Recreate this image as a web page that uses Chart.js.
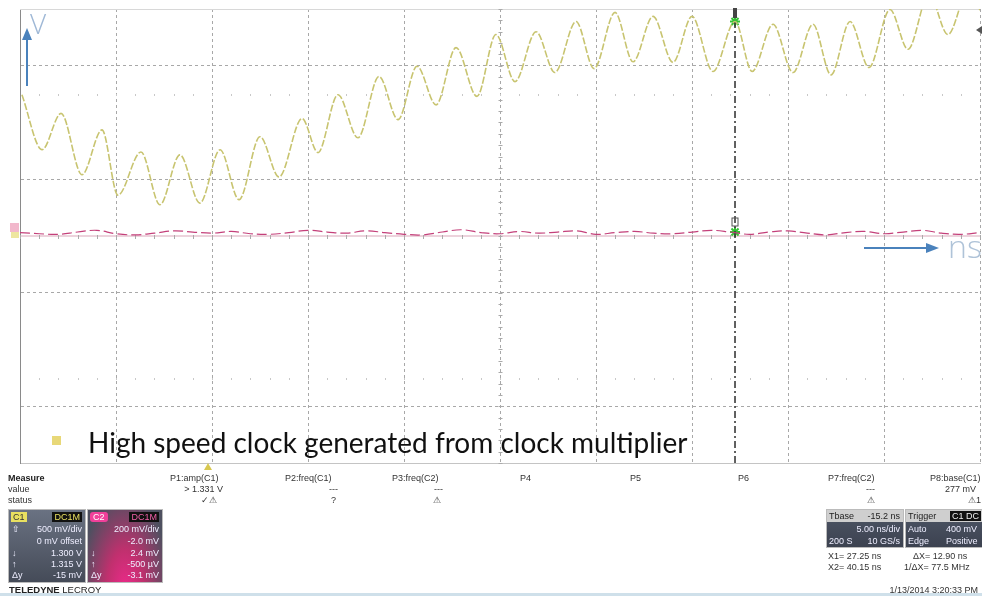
<!DOCTYPE html>
<html>
<head>
<meta charset="utf-8">
<script src="https://cdn.jsdelivr.net/npm/chart.js@4.4.0/dist/chart.umd.min.js"></script>
<style>
  body { margin: 0; width: 982px; height: 596px; position: relative; overflow: hidden; background: #fff; font-family: "Liberation Sans", Arial, sans-serif; }
  canvas { position: absolute; left: 0; top: 0; }
  .t { position: absolute; font-size: 9px; color: #333; white-space: nowrap; line-height: 10px; }
  .r { text-align: right; }
  .box { position: absolute; border: 1px solid #bbb; box-sizing: border-box; }
  .w { color: #eef; }
</style>
</head>
<body>
<canvas id="scope" width="987" height="596"></canvas>

<svg width="982" height="596" style="position:absolute;left:0;top:0">
  <!-- axis hint arrows -->
  <line x1="27" y1="86" x2="27" y2="38" stroke="#4a82bc" stroke-width="2"/>
  <polygon points="22,40 32,40 27,28" fill="#4a82bc"/>
  <line x1="864" y1="248" x2="928" y2="248" stroke="#4a82bc" stroke-width="2"/>
  <polygon points="926,243 926,253 939,248" fill="#4a82bc"/>
  <!-- channel markers on left -->
  <rect x="10" y="223" width="9" height="9" fill="#f2b8cc"/>
  <rect x="11" y="232" width="8" height="6" fill="#eee6a0"/>
  <!-- cursor flags -->
  <rect x="733" y="8" width="4" height="10" fill="#444"/>
  <rect x="732" y="218" width="6" height="8" fill="none" stroke="#555" stroke-width="1"/>
  <polygon points="982,26 976,30 982,34" fill="#555"/>
  <!-- trigger marker -->
  <polygon points="204,470 212,470 208,463" fill="#d8c850"/>
  <!-- bullet -->
  <rect x="52" y="436" width="9" height="9" fill="#e8d878"/>
  <!-- bottom line -->
  <rect x="0" y="593" width="982" height="3" fill="#cfe0ea"/>
</svg>

<div style="position:absolute;left:30px;top:4px;font-family:'Open Sans',sans-serif;font-weight:300;font-size:28px;color:#9fb8d6">V</div>
<div style="position:absolute;left:948px;top:224px;font-family:'Open Sans',sans-serif;font-weight:300;font-size:32px;color:#afc3d8">ns</div>
<div style="position:absolute;left:88px;top:425px;font-family:Lato,'Open Sans',sans-serif;font-size:28px;color:#111">High speed clock generated from clock multiplier</div>

<!-- measure table -->
<div class="t" style="left:8px;top:473px;font-weight:bold;color:#222">Measure</div>
<div class="t" style="left:8px;top:484px">value</div>
<div class="t" style="left:8px;top:495px">status</div>
<div class="t" style="left:170px;top:473px">P1:amp(C1)</div>
<div class="t r" style="left:160px;width:63px;top:484px">&gt; 1.331 V</div>
<div class="t r" style="left:160px;width:57px;top:495px">✓⚠</div>
<div class="t" style="left:285px;top:473px">P2:freq(C1)</div>
<div class="t" style="left:329px;top:484px">---</div>
<div class="t" style="left:331px;top:495px">?</div>
<div class="t" style="left:392px;top:473px">P3:freq(C2)</div>
<div class="t" style="left:434px;top:484px">---</div>
<div class="t" style="left:433px;top:495px">⚠</div>
<div class="t" style="left:520px;top:473px">P4</div>
<div class="t" style="left:630px;top:473px">P5</div>
<div class="t" style="left:738px;top:473px">P6</div>
<div class="t" style="left:828px;top:473px">P7:freq(C2)</div>
<div class="t" style="left:866px;top:484px">---</div>
<div class="t" style="left:867px;top:495px">⚠</div>
<div class="t" style="left:930px;top:473px">P8:base(C1)</div>
<div class="t" style="left:945px;top:484px">277 mV</div>
<div class="t" style="left:968px;top:495px">⚠1</div>

<!-- channel boxes -->
<div class="box" style="left:8px;top:509px;width:78px;height:74px;background:linear-gradient(#6a7282,#454b58)">
  <div class="t" style="left:2px;top:2px;background:#e8e060;color:#333;padding:0 2px">C1</div>
  <div class="t" style="right:3px;top:2px;background:#111;color:#e8e060;padding:0 2px">DC1M</div>
  <div class="t w" style="left:3px;top:14px">⇧</div>
  <div class="t w r" style="right:3px;top:14px">500 mV/div</div>
  <div class="t w r" style="right:3px;top:26px">0 mV offset</div>
  <div class="t w" style="left:3px;top:38px">↓</div>
  <div class="t w r" style="right:3px;top:38px">1.300 V</div>
  <div class="t w" style="left:3px;top:49px">↑</div>
  <div class="t w r" style="right:3px;top:49px">1.315 V</div>
  <div class="t w" style="left:3px;top:60px">Δy</div>
  <div class="t w r" style="right:3px;top:60px">-15 mV</div>
</div>
<div class="box" style="left:87px;top:509px;width:76px;height:74px;background:radial-gradient(ellipse at 50% 110%,#ec2a8a 0%,#c0306e 35%,#4e5060 85%)">
  <div class="t" style="left:2px;top:2px;background:#f0409a;color:#fff;padding:0 3px;border-radius:3px">C2</div>
  <div class="t" style="right:3px;top:2px;background:#111;color:#f060a8;padding:0 2px">DC1M</div>
  <div class="t w r" style="right:3px;top:14px">200 mV/div</div>
  <div class="t w r" style="right:3px;top:26px">-2.0 mV</div>
  <div class="t w" style="left:3px;top:38px">↓</div>
  <div class="t w r" style="right:3px;top:38px">2.4 mV</div>
  <div class="t w" style="left:3px;top:49px">↑</div>
  <div class="t w r" style="right:3px;top:49px">-500 µV</div>
  <div class="t w" style="left:3px;top:60px">Δy</div>
  <div class="t w r" style="right:3px;top:60px">-3.1 mV</div>
</div>
<div class="t" style="left:9px;top:585px;font-size:9.5px;color:#222"><b>TELEDYNE</b> LECROY</div>

<!-- timebase / trigger -->
<div class="box" style="left:826px;top:509px;width:78px;height:39px;background:linear-gradient(#4e5666,#3c4250)">
  <div style="position:absolute;left:0;top:0;width:76px;height:12px;background:#cfcfcf"></div>
  <div class="t" style="left:2px;top:1px;color:#222">Tbase</div>
  <div class="t r" style="right:3px;top:1px;color:#222">-15.2 ns</div>
  <div class="t w r" style="right:3px;top:14px">5.00 ns/div</div>
  <div class="t w" style="left:2px;top:26px">200 S</div>
  <div class="t w r" style="right:3px;top:26px">10 GS/s</div>
</div>
<div class="box" style="left:905px;top:509px;width:78px;height:39px;background:linear-gradient(#4e5666,#3c4250)">
  <div style="position:absolute;left:0;top:0;width:77px;height:12px;background:#cfcfcf"></div>
  <div class="t" style="left:2px;top:1px;color:#222">Trigger</div>
  <div class="t" style="left:44px;top:1px;background:#111;color:#eee;padding:0 2px">C1 DC</div>
  <div class="t w" style="left:2px;top:14px">Auto</div>
  <div class="t w" style="left:40px;top:14px">400 mV</div>
  <div class="t w" style="left:2px;top:26px">Edge</div>
  <div class="t w" style="left:40px;top:26px">Positive</div>
</div>
<div class="t" style="left:828px;top:551px">X1= 27.25 ns</div>
<div class="t" style="left:913px;top:551px">ΔX= 12.90 ns</div>
<div class="t" style="left:828px;top:562px">X2= 40.15 ns</div>
<div class="t" style="left:904px;top:562px">1/ΔX= 77.5 MHz</div>
<div class="t r" style="left:860px;width:118px;top:585px">1/13/2014 3:20:33 PM</div>

<script>
// C1 clock trace: peaks and troughs (time in ns, level in divisions)
const c1Time = [-24.90, -23.85, -22.86, -21.77, -20.73, -19.90, -18.70, -17.71, -16.67, -15.63,
                -14.58, -13.59, -12.50, -11.51, -10.31, -9.48, -8.44, -7.40, -6.30, -5.31,
                -4.32, -3.33, -2.29, -1.20, -0.21, 0.78, 1.88, 2.86, 3.96, 4.90,
                5.99, 6.93, 7.97, 9.01, 10.00, 11.09, 12.24, 13.13, 14.22, 15.26,
                16.30, 17.24, 18.23, 19.22, 20.31, 21.25, 22.34, 23.33, 24.38, 25.42];
const c1Div  = [2.49, 1.52, 2.16, 1.08, 1.87, 0.72, 1.48, 0.55, 1.43, 0.58,
                1.52, 0.64, 1.75, 1.04, 2.07, 1.47, 2.49, 1.73, 2.81, 2.05,
                2.99, 2.31, 3.32, 2.46, 3.55, 2.72, 3.60, 2.88, 3.78, 2.95,
                3.94, 3.07, 3.87, 3.06, 3.87, 2.90, 3.78, 2.90, 3.73, 2.88,
                3.73, 2.84, 3.78, 2.97, 3.99, 3.29, 4.26, 3.55, 4.31, 3.64];

// C2 trace: nearly flat, small wiggles
const c2Time = [-25, -24, -23, -22, -21, -20, -19, -18, -17, -16, -15, -14, -13, -12, -11, -10, -9,
                -8, -7, -6, -5, -4, -3, -2, -1, 0, 1, 2, 3, 4, 5, 6, 7, 8, 9,
                10, 11, 12, 13, 14, 15, 16, 17, 18, 19, 20, 21, 22, 23, 24, 25];
const c2Div  = [0.06, 0.04, 0.03, 0.07, 0.10, 0.04, 0.02, 0.05, 0.09, 0.07, 0.05, 0.08, 0.04,
                0.03, 0.06, 0.10, 0.07, 0.05, 0.09, 0.06, 0.03, 0.02, 0.07, 0.11, 0.06, 0.04,
                0.08, 0.05, 0.07, 0.09, 0.03, 0.06, 0.08, 0.05, 0.04, 0.07, 0.10, 0.07, 0.03,
                0.07, 0.09, 0.05, 0.02, 0.06, 0.08, 0.04, 0.07, 0.10, 0.05, 0.03, 0.06];

// cursor
const cursorNs = 12.24;
const cursorHits = [3.78, 0.07];

// grid
const xGridNs = [-20, -15, -10, -5, 0, 5, 10, 15, 20, 25];
const yGridDivs = [-3, -1, 1, 3];
const minorDotDivs = [-2.5, 2.5];

const scopeMarks = {
  id: 'scopeMarks',
  beforeDatasetsDraw(chart) {
    const { ctx, chartArea, scales } = chart;
    const x = scales.x, y = scales.y;
    ctx.save();
    // top edge
    ctx.strokeStyle = '#d8d8d8';
    ctx.lineWidth = 1;
    ctx.beginPath();
    ctx.moveTo(chartArea.left, chartArea.top + 0.5);
    ctx.lineTo(chartArea.right, chartArea.top + 0.5);
    ctx.stroke();
    // center horizontal axis
    const y0 = y.getPixelForValue(0);
    ctx.strokeStyle = '#ecd3dc';
    ctx.lineWidth = 2;
    ctx.beginPath();
    ctx.moveTo(chartArea.left, y0);
    ctx.lineTo(chartArea.right, y0);
    ctx.stroke();
    ctx.strokeStyle = '#aaa';
    ctx.lineWidth = 1;
    for (let t = -25; t <= 25; t += 1) {
      const px = Math.round(x.getPixelForValue(t)) + 0.5;
      ctx.beginPath();
      ctx.moveTo(px, y0 - 1);
      ctx.lineTo(px, y0 + 3);
      ctx.stroke();
    }
    // center vertical axis ticks
    const x0 = Math.round(x.getPixelForValue(0)) + 0.5;
    for (let v = -4; v <= 4.001; v += 0.2) {
      const py = Math.round(y.getPixelForValue(v)) + 0.5;
      ctx.beginPath();
      ctx.moveTo(x0 - 2, py);
      ctx.lineTo(x0 + 2, py);
      ctx.stroke();
    }
    // faint dots
    ctx.fillStyle = '#c8c8c8';
    minorDotDivs.forEach(d => {
      const py = y.getPixelForValue(d);
      for (let t = -24; t < 25; t += 1) {
        ctx.fillRect(Math.round(x.getPixelForValue(t)), Math.round(py), 1, 2);
      }
    });
    ctx.restore();
  }
};

new Chart(document.getElementById('scope'), {
  type: 'line',
  data: {
    datasets: [
      {
        label: 'C1',
        data: c1Time.map((t, i) => ({ x: t, y: c1Div[i] })),
        borderColor: '#c8c470',
        borderWidth: 1.6,
        borderDash: [7, 2],
        pointRadius: 0,
        cubicInterpolationMode: 'monotone'
      },
      {
        label: 'C2',
        data: c2Time.map((t, i) => ({ x: t, y: c2Div[i] })),
        borderColor: '#c4407a',
        borderWidth: 1.2,
        borderDash: [10, 4],
        pointRadius: 0,
        tension: 0.4
      },
      {
        label: 'cursor',
        data: [{ x: cursorNs, y: -4 }, { x: cursorNs, y: 4 }],
        borderColor: '#3a3a3a',
        borderWidth: 1.6,
        borderDash: [7, 3, 2, 3],
        pointRadius: 0
      },
      {
        label: 'hits',
        type: 'scatter',
        data: cursorHits.map(v => ({ x: cursorNs, y: v })),
        pointStyle: 'star',
        pointRadius: 5,
        borderColor: '#33c233',
        backgroundColor: '#33c233',
        borderWidth: 2
      }
    ]
  },
  options: {
    responsive: false,
    animation: false,
    events: [],
    layout: { padding: { left: 20, top: 9, right: 2, bottom: 133 } },
    plugins: { legend: { display: false }, tooltip: { enabled: false } },
    scales: {
      x: {
        type: 'linear', min: -25, max: 25,
        afterBuildTicks: s => { s.ticks = xGridNs.map(v => ({ value: v })); },
        ticks: { display: false },
        grid: { color: '#a8a8a8', lineWidth: 1, drawTicks: false },
        border: { display: true, color: '#c4c4c4', width: 1, dash: [3, 3] }
      },
      y: {
        min: -4, max: 4,
        afterBuildTicks: s => { s.ticks = yGridDivs.map(v => ({ value: v })); },
        ticks: { display: false },
        grid: { color: '#a8a8a8', lineWidth: 1, drawTicks: false },
        border: { display: true, color: '#8a8a8a', width: 1, dash: [3, 3] }
      }
    }
  },
  plugins: [scopeMarks]
});
</script>
</body>
</html>
